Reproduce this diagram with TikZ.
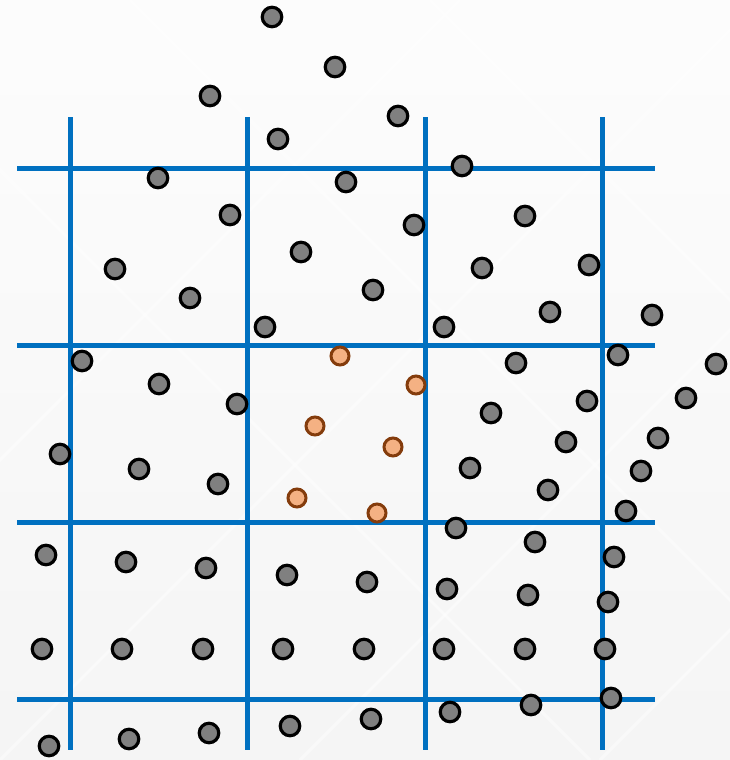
\documentclass[tikz,border=0pt]{standalone}
\usepackage{xcolor}
\usepackage{tikz}
\definecolor{gridblue}{HTML}{0070C0}
\definecolor{dotgray}{HTML}{808080}
\definecolor{hotfill}{HTML}{F4B183}
\definecolor{hotrim}{HTML}{843C0C}

\begin{document}
\begin{tikzpicture}[x=1pt,y=-1pt,
  gridline/.style={gridblue,line width=5pt},
  graydot/.style={circle,draw=black,fill=dotgray,line width=3.2pt,minimum size=19.5pt,inner sep=0pt},
  hotdot/.style={circle,draw=hotrim,fill=hotfill,line width=3pt,minimum size=18pt,inner sep=0pt}]
\useasboundingbox (0,0) rectangle (730,760);
\shade[top color=black!1,bottom color=black!4] (0,0) rectangle (730,760);
% faint diagonal pattern
\foreach \s in {-300,0,300,600} {
  \draw[white,line width=3pt,opacity=0.45] (\s,760) -- (\s+760,0);
  \draw[white,line width=3pt,opacity=0.45] (\s+130,0) -- (\s+890,760);
}
% grid
\foreach \gx in {70,247,425,602}
  \draw[gridline] (\gx,117) -- (\gx,750);
\foreach \gy in {168,345,522,699}
  \draw[gridline] (17,\gy) -- (655,\gy);
% scattered points
\foreach \px/\py [count=\i] in {272/17,335/67,210/96,398/116,278/139,462/166,158/178,346/182,
  230/215,414/225,525/216,301/252,115/269,482/268,589/265,190/298,373/290,550/312,652/315,
  265/327,444/327,82/361,516/363,618/355,716/364,159/384,237/404,491/413,587/401,686/398,
  60/454,139/469,218/484,470/468,566/442,658/438,641/471,548/490,626/511,456/528,
  46/555,126/562,206/568,287/575,367/582,447/589,535/542,528/595,614/557,608/602}
  \node[graydot] (p\i) at (\px,\py) {};
% regular rows
\foreach \px [count=\i] in {42,122,203,283,364,444,525,605}
  \node[graydot] (r\i) at (\px,649) {};
\foreach \px/\py [count=\i] in {49/746,129/739,209/733,290/726,371/719,450/712,531/705,611/698}
  \node[graydot] (b\i) at (\px,\py) {};
% points in the marked cell
\foreach \px/\py [count=\i] in {340/356,416/385,315/426,393/447,297/498,377/513}
  \node[hotdot] (h\i) at (\px,\py) {};
\end{tikzpicture}
\end{document}
